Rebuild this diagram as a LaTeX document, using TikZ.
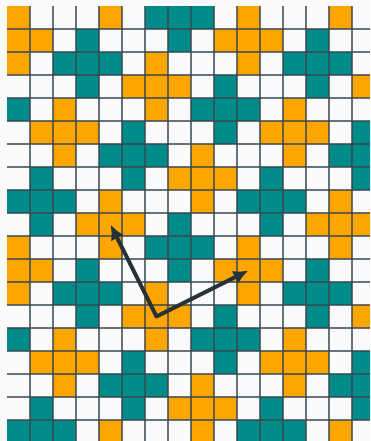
\documentclass[tikz,border=0pt]{standalone}
\usepackage{tikz}
\usetikzlibrary{arrows.meta}

\definecolor{tileO}{HTML}{FFA500}
\definecolor{tileT}{HTML}{008B8B}
\definecolor{tileW}{HTML}{FAFAFA}
\definecolor{gridgray}{HTML}{37474F}
\definecolor{vecdark}{HTML}{263238}

\begin{document}
\begin{tikzpicture}[
        x=23pt, y=-23pt,
        gridline/.style={draw=gridgray, line width=1.3pt, opacity=0.75},
        latvec/.style={draw=vecdark, line width=4pt, line join=round,
            {Latex[length=15pt,width=14pt]}-{Latex[length=15pt,width=14pt]}}
    ]

    \useasboundingbox[fill=tileW] (-0.304,-0.261) rectangle (15.783,18.913);

    % one period of the tiling, repeated 2x2 and clipped
    \begin{scope}
        \clip (0,0) rectangle (15.783,18.913);
        \foreach \r/\cells in {
                0/{O,W,W,W,O,W,T,T,T,W},
                1/{O,O,W,T,W,W,W,T,W,O},
                2/{O,W,T,T,T,W,O,W,W,W},
                3/{W,W,W,T,W,O,O,O,W,T},
                4/{T,W,O,W,W,W,O,W,T,T},
                5/{W,O,O,O,W,T,W,W,W,T},
                6/{W,W,O,W,T,T,T,W,O,W},
                7/{W,T,W,W,W,T,W,O,O,O},
                8/{T,T,T,W,O,W,W,W,O,W},
                9/{W,T,W,O,O,O,W,T,W,W}}
            \foreach \c [count=\n from 0] in \cells
                \foreach \dx in {0,10}
                    \foreach \dy in {0,10}
                        \fill[tile\c] (\n+\dx,\r+\dy) rectangle ++(1,1);
    \end{scope}

    \foreach \i in {1,...,15}
        \draw[gridline] (\i,0) -- (\i,18.913);
    \foreach \j in {1,...,18}
        \draw[gridline] (0,\j) -- (15.783,\j);

    % lattice vectors
    \coordinate (origin) at (6.5,13.5);
    \coordinate (vecA) at (4.5,9.5);
    \coordinate (vecB) at (10.5,11.5);
    \draw[latvec] (vecA) -- (origin) -- (vecB);

\end{tikzpicture}
\end{document}
